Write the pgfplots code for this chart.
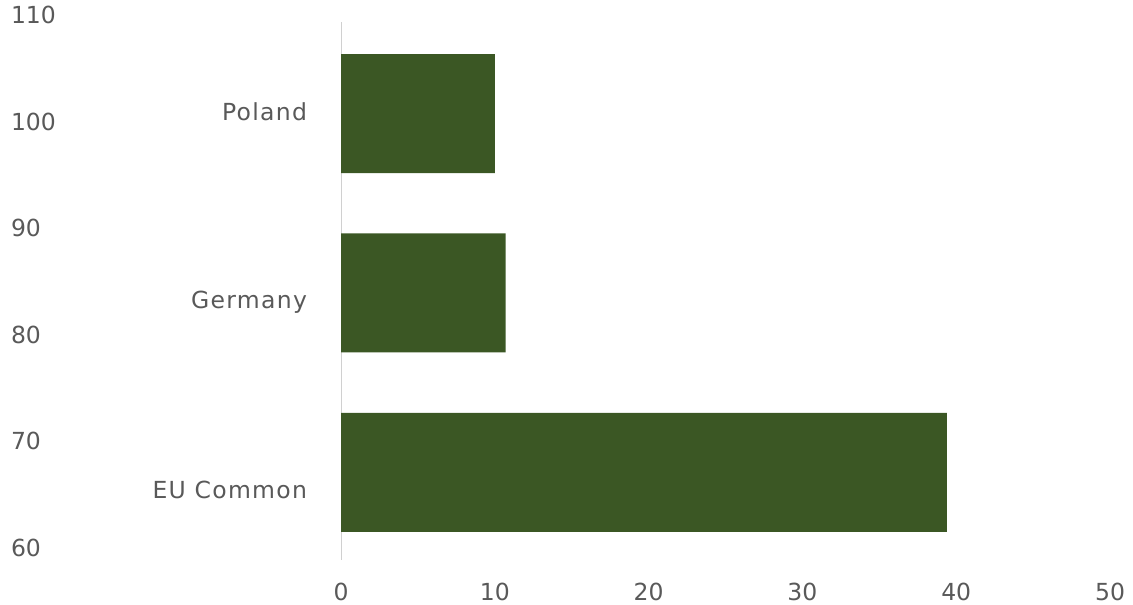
\documentclass[border=0pt]{standalone}
\usepackage{fontspec}
\setmainfont{DejaVu Sans}
\usepackage{pgfplots}
\pgfplotsset{compat=1.18}
\definecolor{barc}{HTML}{3B5724}
\definecolor{txt}{HTML}{595959}
\definecolor{axl}{HTML}{D0D0D0}
\begin{document}
\fontsize{23.5}{28}\selectfont
\begin{tikzpicture}[x=1pt,y=1pt]
\path[use as bounding box] (0,0) rectangle (1133,605);
\begin{axis}[
  at={(341pt,45pt)}, anchor=south west, scale only axis,
  width=769pt, height=538pt,
  xmin=0, xmax=50, ymin=-0.5, ymax=2.5,
  xbar, bar width=119pt,
  ytick={-0.1227,0.9275,1.989}, yticklabels={EU Common,Germany,Poland},
  xtick={0,10,20,30,40,50},
  axis lines*=left,
  x axis line style={draw=none},
  y axis line style={draw=axl, line width=1pt},
  major tick length=0pt,
  tick style={draw=none},
  /pgf/number format/assume math mode=true,
  ticklabel style={text=txt, font=\fontsize{23.5}{28}\selectfont},
  xticklabel style={yshift=-15pt},
  yticklabel style={xshift=-26pt, yshift=2pt, font=\fontsize{23.5}{28}\selectfont\addfontfeature{LetterSpace=5.5}},
]
\addplot[fill=barc, draw=none, bar shift=-2pt] coordinates {(39.4,0) (10.7,1) (10.0,2)};
\end{axis}
\begin{axis}[
  at={(0pt,57pt)}, anchor=south west, scale only axis,
  width=3pt, height=533pt,
  xmin=0, xmax=1, ymin=60, ymax=110,
  ytick={60,70,80,90,100,110},
  xtick=\empty,
  hide x axis,
  axis y line*=right,
  y axis line style={draw=none},
  yticklabel pos=right,
  major tick length=0pt,
  tick style={draw=none},
  /pgf/number format/assume math mode=true,
  yticklabel style={anchor=west, text=txt, font=\fontsize{23.5}{28}\selectfont},
]
\end{axis}
\end{tikzpicture}
\end{document}
